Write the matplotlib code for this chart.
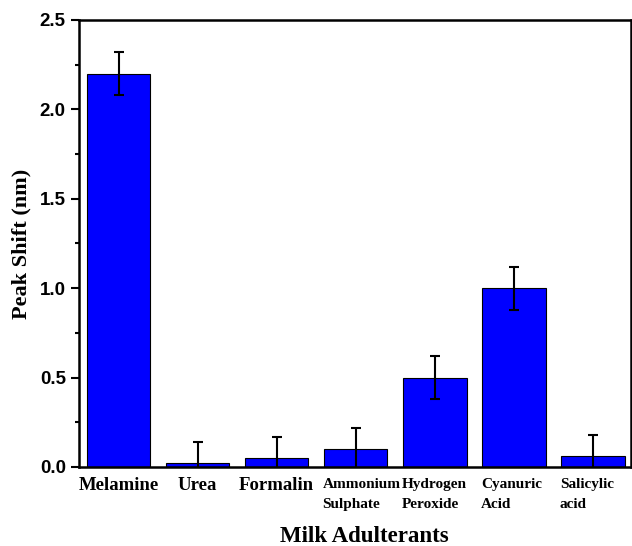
import numpy as np
import matplotlib
matplotlib.use("Agg")
import matplotlib.pyplot as plt
from matplotlib.ticker import MultipleLocator

# data
categories = ["Melamine", "Urea", "Formalin", "Ammonium\nSulphate",
              "Hydrogen\nPeroxide", "Cyanuric\nAcid", "Salicylic\nacid"]
peak_shift = [2.20, 0.02, 0.05, 0.10, 0.50, 1.00, 0.06]
peak_err = [0.12, 0.12, 0.12, 0.12, 0.12, 0.12, 0.12]

serif = "Liberation Serif"
sans = "Liberation Sans"

fig = plt.figure(figsize=(6.32, 5.46), dpi=100)
ax = fig.add_axes([0.125, 0.1447, 0.8735, 0.8187])

x = np.arange(len(categories))
ax.bar(x, peak_shift, width=0.8, color="#0000FF", edgecolor="black",
       linewidth=0.8, yerr=peak_err, capsize=3.3,
       error_kw=dict(elinewidth=1.5, capthick=1.5, ecolor="black"))

ax.set_xlim(-0.5, 6.48)
ax.set_ylim(0, 2.5)
ax.yaxis.set_minor_locator(MultipleLocator(0.25))
yt = np.arange(0, 2.51, 0.5)
ax.set_yticks(yt)
ax.set_yticklabels([f"{v:.1f}" for v in yt],
                   fontfamily=sans, fontweight="bold", fontsize=13.5)
ax.tick_params(axis="y", which="major", direction="out", length=6, width=1.5, pad=3.5)
ax.tick_params(axis="y", which="minor", direction="out", length=3, width=1.5)
ax.set_xticks([])

for s in ax.spines.values():
    s.set_linewidth(1.8)

# category labels: single-line centred, two-line left-aligned at bar edge
trans = ax.get_xaxis_transform()
for i, lab in enumerate(categories):
    if "\n" in lab:
        ax.text(i - 0.42, -0.062, lab, transform=trans, ha="left", va="center",
                fontfamily=serif, fontweight="bold", fontsize=11,
                linespacing=1.7, multialignment="left")
    else:
        ax.text(i, -0.041, lab, transform=trans, ha="center", va="center",
                fontfamily=serif, fontweight="bold", fontsize=13.5)

ax.set_ylabel("Peak Shift (nm)", fontfamily=serif, fontweight="bold", fontsize=16,
              labelpad=6)
fig.text(0.576, 0.017, "Milk Adulterants", ha="center", va="center",
         fontfamily=serif, fontweight="bold", fontsize=16.5)

fig.savefig("out.png", dpi=100, facecolor="white")
